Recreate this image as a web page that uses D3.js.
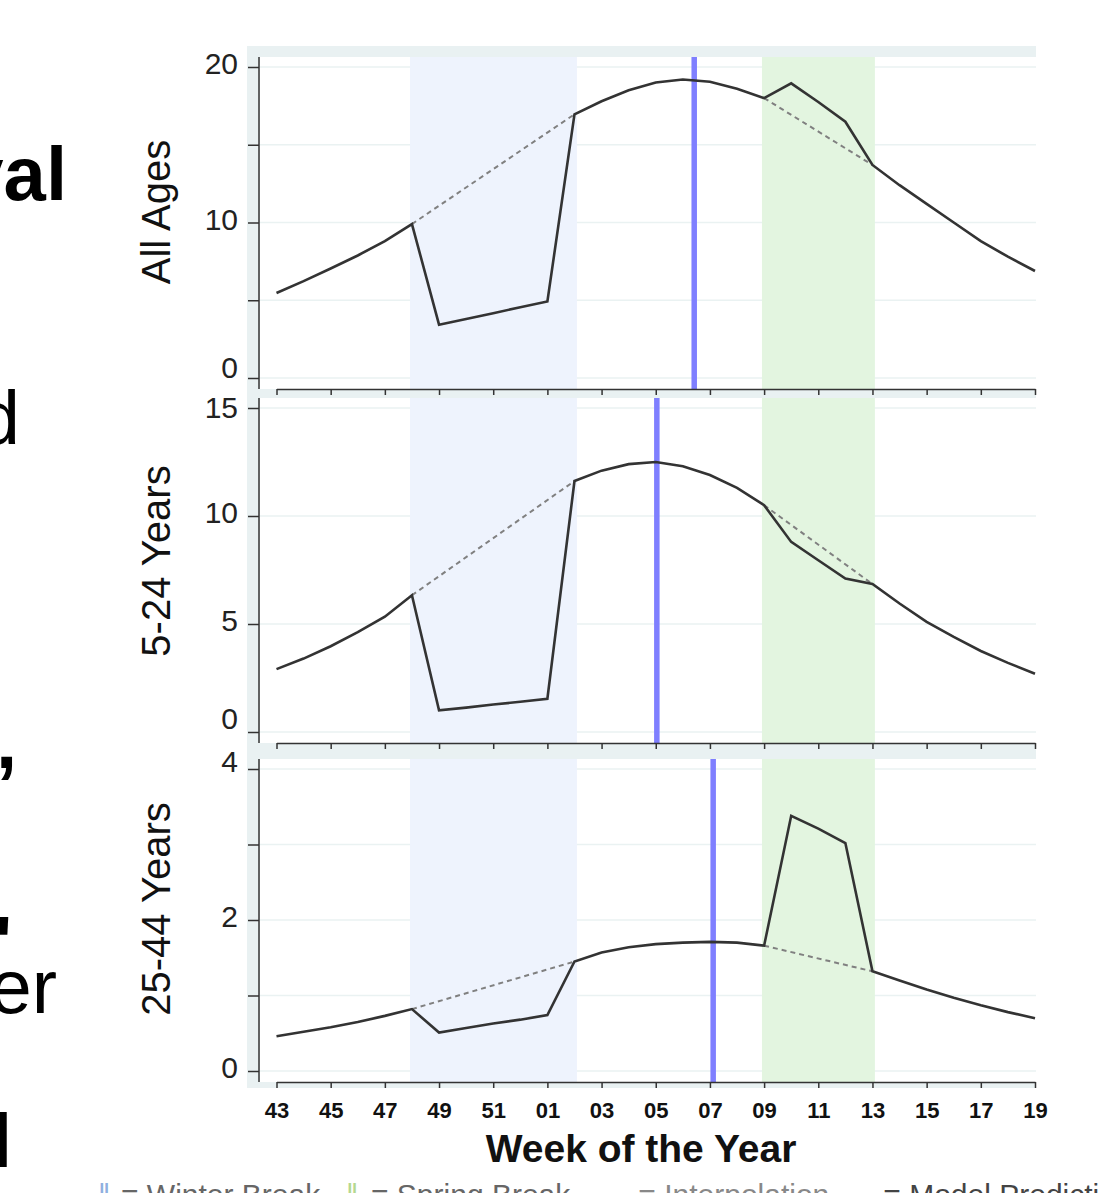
<!DOCTYPE html>
<html>
<head>
<meta charset="utf-8">
<script src="https://d3js.org/d3.v7.min.js"></script>
<style>
  body { margin: 0; background: #fff; }
  svg { display: block; font-family: "Liberation Sans", Arial, sans-serif; }
</style>
</head>
<body>
<svg width="1098" height="1193"></svg>
<script>
// week of the year, flu season runs 43 -> 52 -> 01 -> 19
var weeks = [43,44,45,46,47,48,49,50,51,52,1,2,3,4,5,6,7,8,9,10,11,12,13,14,15,16,17,18,19];
var tickIdx = [0,2,4,6,8,10,12,14,16,18,20,22,24,26,28];

var panelNames = ["All Ages", "5-24 Years", "25-44 Years"];

var allAges = [5.47,6.23,7.04,7.88,8.8,9.9,3.43,3.8,4.17,4.55,4.92,16.96,17.8,18.5,19.0,19.2,19.05,18.6,18.0,
               18.95,17.75,16.48,13.7,12.4,11.2,10.0,8.8,7.8,6.88];
var age5to24 = [2.91,3.4,3.97,4.62,5.34,6.33,1.0,1.13,1.27,1.4,1.54,11.62,12.1,12.4,12.5,12.3,11.9,11.3,10.5,
                8.8,7.95,7.1,6.85,5.95,5.1,4.4,3.75,3.2,2.7];
var age25to44 = [0.46,0.52,0.58,0.65,0.73,0.82,0.51,0.57,0.63,0.68,0.74,1.45,1.57,1.64,1.68,1.70,1.71,1.70,1.66,
                 3.38,3.21,3.02,1.32,1.20,1.08,0.97,0.87,0.78,0.70];

// interpolation across the breaks (index of week before / after break)
var interpSpans = [[5,11],[18,22]];
// break periods, in week index units
var winterBreak = [4.93, 11.09];
var springBreak = [17.92, 22.09];
// peak week (index) per panel
var peakWeek = [15.42, 14.04, 16.12];

var yMax = [20, 15, 4];
var yTicks = [[0,5,10,15,20],[0,5,10,15],[0,1,2,3,4]];
var yLabels = [[0,10,20],[0,5,10,15],[0,2,4]];

var series = [allAges, age5to24, age25to44];

var svg = d3.select("svg");

// layout
var left = 259, right = 1036;
var panels = [
  {top: 57, axis: 389},
  {top: 398, axis: 743},
  {top: 759, axis: 1082}
];

var x = d3.scaleLinear().domain([0, 28]).range([276.5, 1035]);

// outer gray-blue plot region
svg.append("rect")
  .attr("x", 247).attr("y", 46)
  .attr("width", right - 247).attr("height", 1088 - 46)
  .attr("fill", "#e9f1f2");

// slide text fragments cut off on the left
var frag = svg.append("g").attr("fill", "#000").attr("text-anchor", "end").style("font-size", "76px");
frag.append("text").attr("x", 67).attr("y", 200).attr("font-weight", "bold").text("val");
frag.append("text").attr("x", 20).attr("y", 444).text("d");
frag.append("text").attr("x", 17).attr("y", 768).attr("font-weight", "bold").text(",");
frag.append("text").attr("x", 12).attr("y", 966).attr("font-weight", "bold").style("font-size", "70px").text("'");
frag.append("text").attr("x", 57).attr("y", 1013).text("er");
frag.append("text").attr("x", 12).attr("y", 1167).attr("font-weight", "bold").text("l");

panels.forEach(function(p, i) {
  var y = d3.scaleLinear().domain([0, yMax[i]]).range([p.axis - 11, p.top + 10]);
  var g = svg.append("g");

  g.append("rect")
    .attr("x", left + 1).attr("y", p.top)
    .attr("width", right - left - 1).attr("height", p.axis - p.top)
    .attr("fill", "#fff");

  // grid
  g.selectAll(".grid").data(yTicks[i]).enter().append("line")
    .attr("x1", left + 1).attr("x2", right)
    .attr("y1", function(d) { return y(d); })
    .attr("y2", function(d) { return y(d); })
    .attr("stroke", "#eaf2f2").attr("stroke-width", 1.5);

  // breaks
  g.append("rect")
    .attr("x", x(winterBreak[0])).attr("y", p.top)
    .attr("width", x(winterBreak[1]) - x(winterBreak[0])).attr("height", p.axis - p.top)
    .attr("fill", "#eef3fd");
  g.append("rect")
    .attr("x", x(springBreak[0])).attr("y", p.top)
    .attr("width", x(springBreak[1]) - x(springBreak[0])).attr("height", p.axis - p.top)
    .attr("fill", "#e3f5e0");

  // peak week line
  g.append("line")
    .attr("x1", x(peakWeek[i])).attr("x2", x(peakWeek[i]))
    .attr("y1", p.top).attr("y2", p.axis)
    .attr("stroke", "#7f7fff").attr("stroke-width", 5.5);

  // interpolation
  var vals = series[i];
  interpSpans.forEach(function(s) {
    g.append("path")
      .datum(s)
      .attr("d", d3.line().x(function(d) { return x(d); }).y(function(d) { return y(vals[d]); }))
      .attr("fill", "none")
      .attr("stroke", "#808080")
      .attr("stroke-width", 2)
      .attr("stroke-dasharray", "5,4");
  });

  // observed / model line
  g.append("path")
    .datum(vals)
    .attr("d", d3.line().x(function(d, k) { return x(k); }).y(function(d) { return y(d); }))
    .attr("fill", "none")
    .attr("stroke", "#333")
    .attr("stroke-width", 2.6)
    .attr("stroke-linejoin", "miter");

  // y axis
  var ya = g.append("g")
    .attr("transform", "translate(" + left + ",0)")
    .call(d3.axisLeft(y).tickValues(yTicks[i]).tickSize(11).tickPadding(10)
      .tickFormat(function(d) { return yLabels[i].indexOf(d) >= 0 ? d : ""; }));
  ya.select(".domain").remove();
  ya.selectAll(".tick line").attr("stroke", "#333").attr("stroke-width", 1.5);
  ya.selectAll(".tick text")
    .style("font-size", "30px").attr("fill", "#222").attr("font-family", null)
    .attr("dy", function(d) {
      var shift = -4;
      if (d === 0 && i < 2) shift = i === 0 ? -11 : -14;
      if (d === yMax[i] && i === 2) shift = -8;
      if (d === yMax[i] && i === 1) shift = -1;
      return (0.35 * 30 + shift) + "px";
    });
  g.append("line")
    .attr("x1", left).attr("x2", left)
    .attr("y1", p.top).attr("y2", p.axis)
    .attr("stroke", "#333").attr("stroke-width", 1.5);

  // x axis
  var xa = g.append("g")
    .attr("transform", "translate(0," + p.axis + ")")
    .call(d3.axisBottom(x).tickValues(tickIdx).tickSize(6).tickSizeOuter(0)
      .tickFormat(function(d) { var w = weeks[d]; return w < 10 ? "0" + w : "" + w; }));
  xa.select(".domain").attr("stroke", "#333").attr("stroke-width", 1.5);
  xa.selectAll(".tick line").attr("stroke", "#333").attr("stroke-width", 1.5);
  if (i < 2) {
    xa.selectAll(".tick text").remove();
  } else {
    xa.selectAll(".tick text")
      .attr("y", 36).attr("dy", 0)
      .attr("font-family", null)
      .style("font-size", "22px").attr("font-weight", "bold").attr("fill", "#111");
  }

  // panel title
  svg.append("text")
    .attr("transform", "translate(170," + [212, 561, 909][i] + ") rotate(-90)")
    .attr("text-anchor", "middle")
    .style("font-size", "40px")
    .attr("fill", "#111")
    .text(panelNames[i]);
});

svg.append("text")
  .attr("x", 641).attr("y", 1162)
  .attr("text-anchor", "middle")
  .attr("font-weight", "bold")
  .style("font-size", "39px")
  .attr("fill", "#111")
  .text("Week of the Year");

// legend, cut off at the bottom of the image
var leg = svg.append("g").style("font-size", "30px").attr("fill", "#666");
leg.append("text").attr("x", 98).attr("y", 1205).attr("fill", "#8fb0e0").text("\u2016");
leg.append("text").attr("x", 121).attr("y", 1205).text("= Winter Break");
leg.append("text").attr("x", 346).attr("y", 1205).attr("fill", "#b5d88f").text("\u2016");
leg.append("text").attr("x", 371).attr("y", 1205).text("= Spring Break");
leg.append("text").attr("x", 600).attr("y", 1205).attr("fill", "#888").text("\u2014 = Interpolation");
leg.append("text").attr("x", 845).attr("y", 1205).attr("fill", "#444").text("\u2014 = Model Prediction");
</script>
</body>
</html>
